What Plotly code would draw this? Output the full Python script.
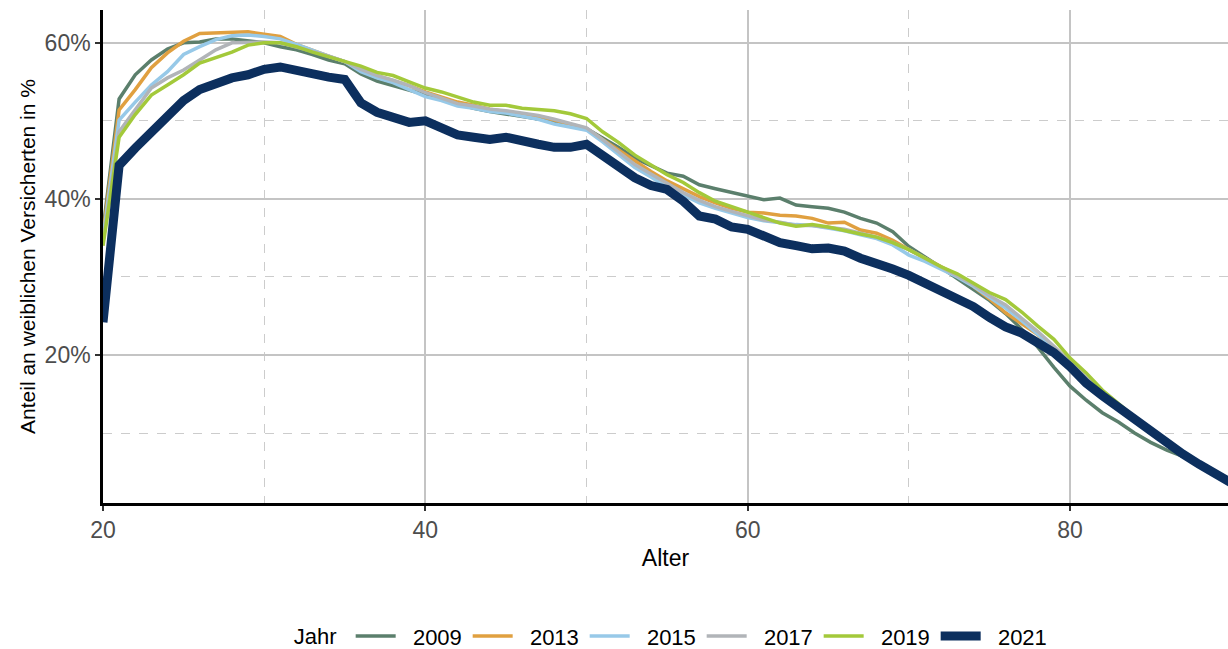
import plotly.graph_objects as go

ages = list(range(20, 91))

y2009 = [36.0, 52.8, 55.9, 57.8, 59.2, 60.0, 60.1, 60.5, 60.5, 60.3,
         60.0, 59.5, 59.1, 58.5, 57.8, 57.3, 56.0, 55.1, 54.5, 54.0,
         53.3, 52.7, 52.1, 51.6, 51.2, 50.9, 50.6, 50.3, 49.9, 49.5,
         49.0, 47.8, 46.6, 45.2, 44.2, 43.3, 42.9, 41.8, 41.3, 40.8,
         40.3, 39.9, 40.1, 39.2, 39.0, 38.8, 38.3, 37.5, 36.9, 35.8,
         33.9, 32.6, 31.2, 29.8, 28.4, 27.0, 25.3, 23.3, 21.0, 18.4,
         16.0, 14.2, 12.6, 11.4, 10.0, 8.8, 7.8, 7.0, 6.0, 4.8, 3.7]
y2013 = [35.5, 51.4, 54.0, 56.8, 58.7, 60.2, 61.2, 61.3, 61.3, 61.4,
         61.1, 60.8, 59.8, 59.0, 58.3, 57.6, 56.6, 55.8, 55.2, 54.5,
         53.7, 53.0, 52.4, 52.0, 51.5, 51.2, 50.9, 50.6, 50.1, 49.6,
         49.0, 47.6, 46.2, 44.8, 43.5, 42.3, 41.3, 40.3, 39.5, 38.8,
         38.3, 38.2, 37.9, 37.8, 37.5, 36.9, 37.0, 36.0, 35.6, 34.7,
         33.5, 32.4, 31.3, 30.2, 28.8, 27.2, 25.4, 24.0, 22.6, 20.8,
         18.7, 16.6, 14.8, 13.3, 11.8, 10.2, 8.5, 7.3, 6.0, 4.7, 3.6]
y2015 = [35.0, 50.1, 52.4, 54.6, 56.3, 58.5, 59.5, 60.4, 60.9, 61.0,
         60.8, 60.5, 59.8, 59.0, 58.3, 57.6, 56.3, 55.5, 54.9, 54.0,
         53.1, 52.6, 51.9, 51.6, 51.2, 51.0, 50.6, 50.2, 49.6, 49.2,
         48.8, 47.3, 45.7, 44.0, 42.8, 41.5, 40.5, 39.5, 38.8, 38.2,
         37.6, 37.2, 36.9, 36.7, 36.6, 36.3, 35.9, 35.4, 34.9, 34.1,
         32.8, 32.0, 31.0, 30.0, 28.8, 27.4, 26.0, 24.4, 22.7, 20.9,
         18.9, 16.9, 15.0, 13.5, 12.0, 10.3, 8.5, 7.3, 6.0, 4.7, 3.6]
y2017 = [34.5, 48.6, 51.4, 54.2, 55.5, 56.5, 57.8, 59.1, 60.0, 60.1,
         60.1, 60.0, 59.5, 58.9, 58.3, 57.6, 56.6, 55.8, 55.2, 54.5,
         53.6, 52.9, 52.2, 51.9, 51.5, 51.3, 51.0, 50.7, 50.2, 49.7,
         49.1, 47.6, 46.0, 44.4, 43.2, 42.0, 40.8, 39.8, 39.0, 38.4,
         37.8, 37.3, 37.0, 36.6, 36.6, 36.4, 36.1, 35.6, 35.1, 34.4,
         33.5, 32.4, 31.3, 30.2, 29.0, 27.6, 26.4, 24.7, 23.0, 21.1,
         19.1, 17.1, 15.1, 13.6, 12.0, 10.3, 8.5, 7.3, 6.0, 4.7, 3.6]
y2019 = [34.0, 47.9, 50.8, 53.3, 54.6, 55.9, 57.4, 58.1, 58.8, 59.7,
         60.0, 60.0, 59.5, 58.8, 58.2, 57.7, 57.0, 56.2, 55.8, 55.0,
         54.2, 53.7, 53.0, 52.4, 52.0, 52.0, 51.6, 51.5, 51.3, 50.9,
         50.3, 48.6, 47.2, 45.6, 44.3, 43.1, 42.1, 40.8, 39.7, 39.0,
         38.3, 37.7, 36.9, 36.5, 36.7, 36.4, 35.9, 35.5, 35.1, 34.4,
         33.5, 32.4, 31.3, 30.4, 29.2, 28.0, 27.1, 25.5, 23.7, 22.0,
         19.6, 17.7, 15.5, 13.8, 12.1, 10.4, 8.6, 7.3, 6.0, 4.7, 3.6]
y2021 = [24.2, 44.3, 46.5, 48.5, 50.7, 52.6, 54.0, 54.8, 55.5, 55.9,
         56.6, 56.9, 56.4, 56.0, 55.6, 55.3, 52.3, 51.1, 50.4, 49.8,
         50.0, 49.0, 48.2, 47.9, 47.6, 47.9, 47.3, 47.0, 46.6, 46.6,
         47.0, 45.5, 44.0, 42.7, 41.7, 41.2, 39.7, 37.8, 37.4, 36.4,
         36.1, 35.1, 34.4, 34.0, 33.6, 33.7, 33.3, 32.4, 31.8, 31.0,
         30.2, 29.2, 28.3, 27.4, 26.2, 24.8, 23.6, 22.8, 21.7, 20.3,
         18.5, 16.4, 14.8, 13.3, 11.7, 10.0, 8.5, 7.3, 6.0, 4.7, 3.6]

years = ["2009", "2013", "2015", "2017", "2019", "2021"]
series = [y2009, y2013, y2015, y2017, y2019, y2021]
colors = ["#5b7f6c", "#e0a040", "#97c9e8", "#b1b4b8", "#a3c93a", "#0c2f5e"]
widths = [3.5, 3.5, 3.5, 3.5, 3.5, 9]

fig = go.Figure()
for name, vals, col, w in zip(years, series, colors, widths):
    fig.add_trace(go.Scatter(
        x=ages, y=[v / 100 for v in vals], mode="lines",
        name="\u00a0\u00a0" + name,
        line=dict(color=col, width=w), hoverinfo="skip"))

font_family = "Liberation Sans, Arial, sans-serif"
fig.update_layout(
    width=1228, height=649,
    margin=dict(l=103, r=0, t=10, b=146, autoexpand=False),
    paper_bgcolor="white", plot_bgcolor="white",
    font=dict(family=font_family, size=22, color="black"),
    showlegend=True,
    legend=dict(orientation="h", x=0.506, xanchor="center", y=-0.27, yanchor="middle",
                title=dict(text="Jahr ", font=dict(size=22, color="black")),
                font=dict(size=22, color="black"), itemwidth=40, tracegroupgap=0,
                entrywidth=62, entrywidthmode="pixels"),
    xaxis=dict(
        range=[20, 89.8], tickvals=[20, 40, 60, 80], ticks="outside", ticklen=5,
        tickwidth=1.5, tickcolor="#333333", automargin=False,
        tickfont=dict(size=23, color="#4d4d4d"),
        showline=True, linecolor="black", linewidth=2.5,
        showgrid=True, gridcolor="#c4c4c4", gridwidth=2, zeroline=False,
        minor=dict(tickvals=[30, 50, 70], showgrid=True, griddash="dash",
                   gridcolor="#cccccc", gridwidth=1, ticks=""),
        title=dict(text="Alter", font=dict(size=23, color="black"), standoff=8),
    ),
    yaxis=dict(
        range=[0.0103, 0.642], tickvals=[0.2, 0.4, 0.6], tickformat=".0%",
        ticks="outside", ticklen=5, tickwidth=1.5, tickcolor="#333333",
        automargin=False,
        tickfont=dict(size=23, color="#4d4d4d"),
        showline=True, linecolor="black", linewidth=2.5,
        showgrid=True, gridcolor="#c4c4c4", gridwidth=2, zeroline=False,
        minor=dict(tickvals=[0.1, 0.3, 0.5], showgrid=True, griddash="dash",
                   gridcolor="#cccccc", gridwidth=1, ticks=""),
        title=dict(text="Anteil an weiblichen Versicherten in %",
                   font=dict(size=21, color="black"), standoff=4),
    ),
)

fig.write_html("out.html", config={"displayModeBar": False},
               post_script="document.body.style.margin='0';document.body.style.overflow='hidden';")
